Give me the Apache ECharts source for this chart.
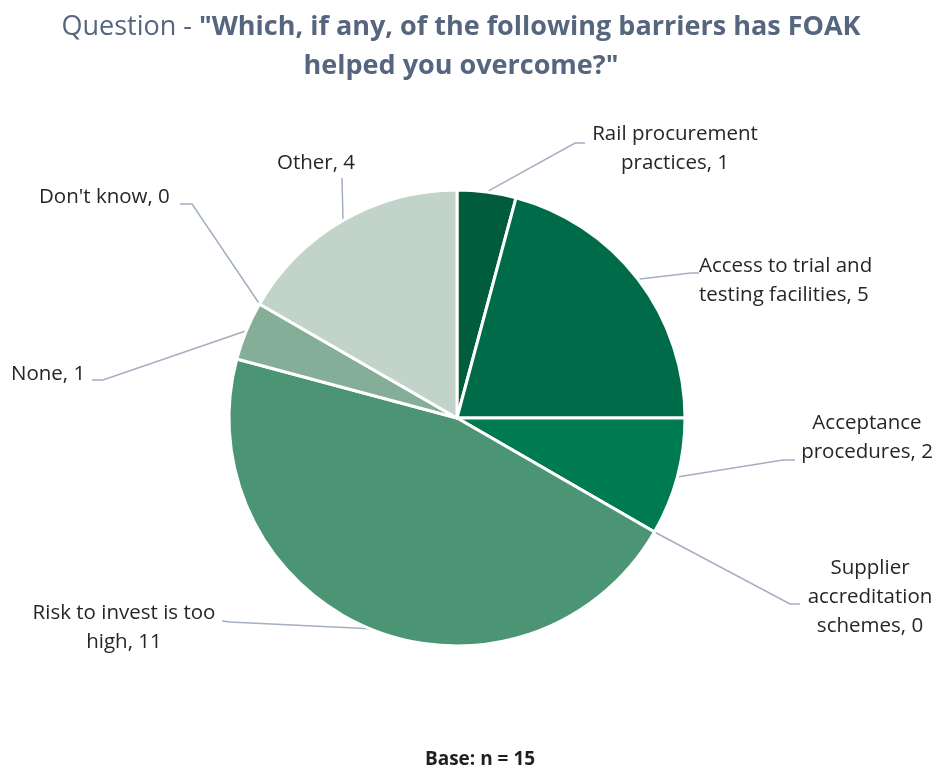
<!DOCTYPE html>
<html>
<head>
<meta charset="utf-8">
<script src="https://cdn.jsdelivr.net/npm/echarts@6/dist/echarts.min.js"></script>
<style>
  html, body { margin: 0; padding: 0; background: #ffffff; }
  #chart { width: 939px; height: 769px; }
</style>
</head>
<body>
<div id="chart"></div>
<script>
// Survey answers, in the order they run clockwise from twelve o'clock
const categories = [
  'Rail procurement\npractices',
  'Access to trial and\ntesting facilities',
  'Acceptance\nprocedures',
  'Supplier\naccreditation\nschemes',
  'Risk to invest is too\nhigh',
  'None',
  "Don't know",
  'Other'
];
const values = [1, 5, 2, 0, 11, 1, 0, 4];
const sliceColors = ['#005c3d', '#006b48', '#007a51', '#007a51', '#4c9574', '#84ae97', '#84ae97', '#c2d4c9'];
const baseNote = 'Base: n = 15';

// Where each callout label sits and how its leader line bends
// (anchor = label position, elbow/end = leader line after it leaves the slice edge)
const labelPlacement = [
  { x: 675, y: 149, align: 'center', elbow: [575, 143], end: [585, 143] },
  { x: 699, y: 281, align: 'left',   elbow: [691, 273], end: [699, 273] },
  { x: 867, y: 438, align: 'center', elbow: [783, 460], end: [795, 460] },
  { x: 870, y: 597, align: 'center', elbow: [790, 604], end: [800, 604] },
  { x: 124, y: 628, align: 'center', elbow: [230, 622], end: [222, 621] },
  { x: 11,  y: 374, align: 'left',   elbow: [103, 380], end: [92, 380] },
  { x: 39,  y: 197, align: 'left',   elbow: [192, 204], end: [180, 204] },
  { x: 316, y: 163, align: 'center', elbow: [342, 178], end: [342, 178] }
];

const chart = echarts.init(document.getElementById('chart'));

const pieData = categories.map((name, i) => ({
  name: name,
  value: values[i],
  itemStyle: { color: sliceColors[i] }
}));

chart.setOption({
  animation: false,
  title: [
    {
      text: '{r|Question - }{b|"Which, if any, of the following barriers has FOAK}\n{b|helped you overcome?"}',
      left: 456,
      textAlign: 'center',
      top: 3,
      textStyle: {
        rich: {
          r: { fontFamily: 'Open Sans', fontSize: 27, fontWeight: 'normal', color: '#56667f', lineHeight: 39 },
          b: { fontFamily: 'Open Sans', fontSize: 27, fontWeight: 'bold', color: '#56667f', lineHeight: 39 }
        }
      }
    },
    {
      text: baseNote,
      left: 475,
      top: 745,
      textAlign: 'center',
      textStyle: { fontFamily: 'Open Sans', fontSize: 19, fontWeight: 'bold', color: '#1f1f1f' }
    }
  ],
  series: [{
    type: 'pie',
    center: [457, 418],
    radius: 228,
    startAngle: 90,
    clockwise: true,
    avoidLabelOverlap: false,
    minShowLabelAngle: 0,
    data: pieData,
    itemStyle: { borderColor: '#ffffff', borderWidth: 3 },
    label: {
      show: true,
      position: 'outside',
      formatter: p => p.name + ', ' + p.value,
      fontFamily: 'Open Sans',
      fontSize: 20.5,
      lineHeight: 29,
      color: '#262626'
    },
    labelLine: {
      show: true,
      length: 20,
      length2: 10,
      lineStyle: { color: '#a3afc1', width: 1.5 }
    },
    labelLayout: function (params) {
      const place = labelPlacement[params.dataIndex];
      const start = params.labelLinePoints ? params.labelLinePoints[0] : place.elbow;
      return {
        x: place.x,
        y: place.y,
        align: place.align,
        verticalAlign: 'middle',
        labelLinePoints: [start, place.elbow, place.end]
      };
    },
    emphasis: { disabled: true }
  }]
});
</script>
</body>
</html>
